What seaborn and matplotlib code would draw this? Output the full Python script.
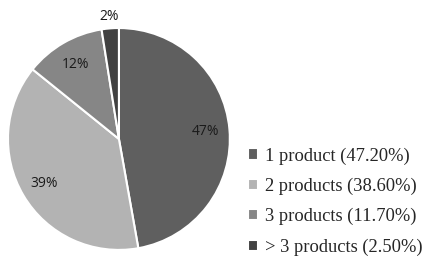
import matplotlib
matplotlib.use("Agg")
import matplotlib.pyplot as plt
import seaborn as sns
import numpy as np

categories = ["1 product", "2 products", "3 products", "> 3 products"]
values = [47.2, 38.6, 11.7, 2.5]
colors = ["#5f5f5f", "#b3b3b3", "#868686", "#414141"]

sns.set_theme(style="white")
plt.rcParams['font.family'] = ['DejaVu Sans']

fig = plt.figure(figsize=(4.34, 2.67), dpi=100)
ax = fig.add_axes([0.018, 0.064, 0.512, 0.831])

wedges, texts, autotexts = ax.pie(
    values, colors=colors, startangle=90, counterclock=False,
    autopct=lambda p: f"{p:.0f}%", pctdistance=0.78,
    wedgeprops=dict(edgecolor="white", linewidth=1.5),
    textprops=dict(fontsize=10, color="#1a1a1a", family="Open Sans"))
ax.set_aspect("equal")
ax.set_xlim(-1.0, 1.0)
ax.set_ylim(-1.0, 1.0)
# smallest slice label sits outside the pie
x, y = autotexts[-1].get_position()
autotexts[-1].set_position((x * 1.11 / 0.78, y * 1.11 / 0.78))
for t in autotexts:
    t.set_clip_on(False)

leg_labels = [f"{c} ({v:.2f}%)" for c, v in zip(categories, values)]
fig.legend(wedges, leg_labels, loc="upper left", bbox_to_anchor=(0.55, 0.483),
           frameon=False, handlelength=0.55, handleheight=0.55, handletextpad=0.4,
           labelspacing=0.71, borderpad=0,
           prop=dict(family="Liberation Serif", size=13.3))

fig.savefig("out.png", dpi=100)
